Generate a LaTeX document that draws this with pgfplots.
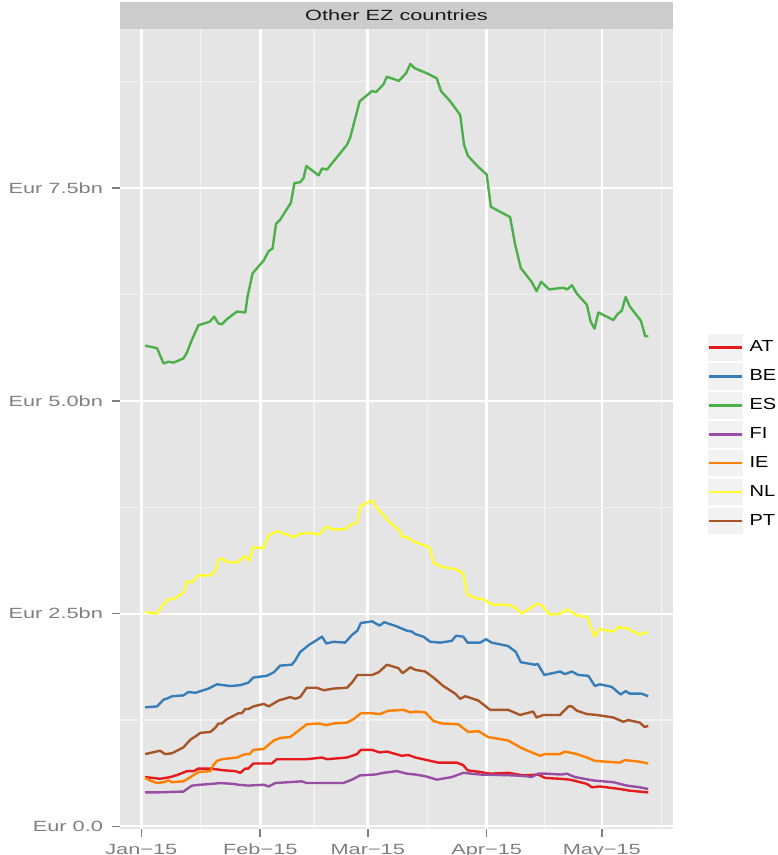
\documentclass[border=0pt]{standalone}
\usepackage{pgfplots}
\pgfplotsset{compat=1.18}
\usepackage{fontspec}
\setmainfont{Liberation Sans}
\newfontfamily\axisfont{Liberation Sans}[FakeStretch=1.47]
\newfontfamily\legfont{Liberation Sans}[FakeStretch=1.25]
\definecolor{cAT}{HTML}{E41A1C}
\definecolor{cBE}{HTML}{377EB8}
\definecolor{cES}{HTML}{4DAF4A}
\definecolor{cFI}{HTML}{984EA3}
\definecolor{cIE}{HTML}{FF7F00}
\definecolor{cNL}{HTML}{FFFF33}
\definecolor{cPT}{HTML}{A65628}
\definecolor{panel}{HTML}{E5E5E5}
\definecolor{minorg}{HTML}{F2F2F2}
\definecolor{stripbg}{HTML}{CCCCCC}
\definecolor{axtext}{HTML}{7F7F7F}
\definecolor{keybg}{HTML}{F2F2F2}
\begin{document}
\begin{tikzpicture}
\useasboundingbox (0,0) rectangle (388.5pt,427.5pt);
\clip (0,0) rectangle (388.5pt,427.5pt);
\begin{axis}[
  name=ax, at={(60pt,13pt)}, anchor=south west,
  scale only axis, width=276.5pt, height=400pt,
  xmin=-5.55, xmax=138.55, ymin=-0.03, ymax=9.37,
  axis background/.style={fill=panel},
  axis line style={draw=none},
  xtick={0,31,59,90,120},
  xticklabels={Jan−15,Feb−15,Mar−15,Apr−15,May−15},
  ytick={0,2.5,5,7.5},
  yticklabels={Eur 0.0,Eur 2.5bn,Eur 5.0bn,Eur 7.5bn},
  minor xtick={15.5,45,74.5,105,135.5},
  minor ytick={1.25,3.75,6.25,8.75},
  grid=both,
  major x grid style={white,line width=1.3pt},
  major y grid style={white,line width=1.0pt},
  minor x grid style={minorg,line width=0.65pt},
  minor y grid style={minorg,line width=0.6pt},
  tick align=outside, tick pos=left,
  major tick length=4pt, minor tick length=0pt,
  every tick/.style={axtext, line width=0.8pt},
  tick label style={font=\axisfont\fontsize{7.4}{8}\selectfont, text=axtext},
  yticklabel style={xshift=-1pt},
  legend style={at={(1.0615,0.6198)}, anchor=north west, draw=none, fill=none,
    inner sep=0pt, outer sep=0pt, row sep=0pt,
    font=\legfont\fontsize{8}{8}\selectfont,
    nodes={inner sep=0pt},
    /tikz/every odd column/.append style={column sep=2.7pt}},
  legend cell align=left,
  legend image code/.code={%
    \path[fill=keybg,draw=white,line width=0.6pt] (0pt,-6.925pt) rectangle (18pt,6.925pt);
    \draw[#1] (0.8pt,0pt) -- (17.2pt,0pt);},
  every axis plot/.append style={line width=1.2pt, line join=round},
]
\addplot[cAT] coordinates {
(1.0,0.58) (4.9,0.56) (7.6,0.58) (9.7,0.61) (11.9,0.65) (13.6,0.65) (14.9,0.68) (18.0,0.68)
(21.4,0.66) (24.5,0.65) (25.8,0.63) (27.1,0.68) (27.9,0.68) (29.2,0.74) (34.0,0.74) (35.3,0.79)
(39.7,0.79) (43.1,0.79) (47.1,0.81) (48.4,0.79) (53.6,0.81) (56.2,0.85) (57.2,0.90) (60.1,0.90)
(62.1,0.87) (64.0,0.88) (67.9,0.83) (69.6,0.84) (71.4,0.81) (74.4,0.78) (77.4,0.75) (82.2,0.75)
(83.9,0.72) (85.0,0.66) (88.3,0.64) (90.9,0.62) (95.6,0.63) (99.5,0.60) (103.4,0.61) (105.2,0.57)
(109.1,0.56) (111.7,0.55) (116.1,0.50) (117.4,0.46) (119.5,0.47) (124.7,0.44) (127.3,0.42) (132.1,0.40)
};
\addlegendentry{AT}
\addplot[cBE] coordinates {
(1.0,1.40) (4.1,1.41) (5.8,1.49) (7.1,1.51) (8.0,1.53) (11.0,1.54) (12.3,1.58) (14.1,1.57)
(17.5,1.62) (19.7,1.67) (23.2,1.65) (25.8,1.66) (27.9,1.69) (29.2,1.75) (32.7,1.77) (34.5,1.81)
(36.2,1.89) (39.2,1.90) (40.1,1.95) (41.4,2.05) (43.6,2.13) (47.1,2.23) (48.2,2.15) (50.1,2.17)
(53.1,2.16) (54.9,2.25) (56.3,2.30) (57.2,2.39) (60.1,2.41) (62.1,2.36) (63.3,2.40) (66.6,2.35)
(69.2,2.30) (70.5,2.29) (71.4,2.26) (73.5,2.23) (75.3,2.17) (77.9,2.16) (80.9,2.18) (82.0,2.24)
(83.9,2.23) (85.0,2.16) (88.3,2.16) (89.8,2.20) (91.3,2.16) (95.6,2.12) (97.6,2.05) (98.9,1.93)
(102.6,1.90) (103.3,1.91) (105.0,1.78) (109.1,1.82) (110.4,1.79) (112.2,1.82) (113.9,1.78) (116.5,1.77)
(118.2,1.65) (119.5,1.67) (122.6,1.64) (124.9,1.55) (126.2,1.59) (127.3,1.56) (130.4,1.56) (132.1,1.53)
};
\addlegendentry{BE}
\addplot[cES] coordinates {
(1.0,5.65) (4.1,5.62) (5.8,5.44) (7.1,5.46) (8.4,5.45) (11.0,5.50) (11.9,5.57) (13.2,5.72)
(14.9,5.89) (17.8,5.93) (19.0,5.99) (20.1,5.91) (21.0,5.90) (22.3,5.96) (24.9,6.05) (27.1,6.04)
(27.7,6.23) (29.0,6.50) (31.9,6.65) (33.2,6.76) (34.2,6.79) (35.1,7.08) (36.2,7.13) (39.0,7.33)
(39.9,7.56) (41.4,7.57) (42.3,7.62) (43.0,7.76) (46.2,7.65) (47.1,7.73) (48.4,7.72) (53.6,8.01)
(54.4,8.09) (56.9,8.52) (60.1,8.64) (61.2,8.63) (63.1,8.72) (64.0,8.81) (67.1,8.76) (69.0,8.85)
(70.1,8.96) (71.2,8.91) (74.4,8.85) (77.0,8.79) (78.1,8.64) (80.5,8.52) (83.1,8.36) (84.1,8.01)
(85.1,7.88) (87.8,7.75) (90.0,7.66) (91.1,7.28) (96.1,7.16) (97.4,6.84) (98.9,6.56) (101.7,6.40)
(103.0,6.29) (104.2,6.40) (106.3,6.31) (110.0,6.33) (111.0,6.31) (112.2,6.36) (113.5,6.26) (116.1,6.13)
(117.1,5.93) (118.1,5.85) (119.1,6.04) (123.0,5.95) (124.1,6.02) (125.2,6.06) (126.2,6.22) (127.3,6.11)
(130.2,5.94) (131.3,5.76) (132.1,5.76)
};
\addlegendentry{ES}
\addplot[cFI] coordinates {
(1.0,0.40) (4.1,0.40) (11.0,0.41) (11.9,0.44) (13.2,0.48) (15.4,0.49) (18.4,0.50) (20.6,0.51)
(24.0,0.50) (25.3,0.49) (27.9,0.48) (31.9,0.49) (33.2,0.47) (34.9,0.51) (41.8,0.53) (43.1,0.51)
(52.6,0.51) (54.9,0.55) (57.0,0.60) (60.9,0.61) (63.1,0.63) (66.6,0.65) (69.2,0.62) (71.4,0.61)
(74.0,0.59) (77.0,0.55) (80.9,0.58) (83.9,0.63) (88.3,0.61) (97.0,0.60) (100.4,0.59) (101.7,0.58)
(103.4,0.62) (105.6,0.62) (109.5,0.61) (110.9,0.62) (113.0,0.58) (117.8,0.54) (123.0,0.52) (126.5,0.48)
(129.9,0.46) (132.1,0.44)
};
\addlegendentry{FI}
\addplot[cIE] coordinates {
(1.0,0.57) (2.3,0.54) (4.1,0.51) (5.8,0.52) (7.1,0.54) (8.0,0.52) (11.0,0.53) (12.8,0.58)
(14.9,0.64) (18.0,0.65) (18.8,0.72) (19.7,0.77) (21.0,0.79) (24.9,0.81) (27.1,0.85) (28.2,0.85)
(29.2,0.90) (31.9,0.91) (34.5,1.01) (36.2,1.04) (38.8,1.05) (40.5,1.11) (43.1,1.20) (46.2,1.21)
(48.2,1.19) (50.1,1.21) (53.6,1.22) (55.3,1.26) (57.2,1.33) (60.1,1.33) (62.1,1.32) (64.4,1.36)
(68.3,1.37) (70.1,1.34) (71.4,1.35) (74.0,1.34) (76.1,1.24) (78.3,1.21) (82.6,1.20) (85.2,1.11)
(87.8,1.12) (90.4,1.05) (95.6,1.01) (99.1,0.92) (103.9,0.83) (105.2,0.85) (109.1,0.85) (110.4,0.88)
(113.5,0.85) (116.1,0.81) (118.2,0.77) (124.7,0.75) (126.0,0.78) (129.9,0.76) (132.1,0.74)
};
\addlegendentry{IE}
\addplot[cNL] coordinates {
(1.0,2.52) (4.1,2.50) (5.4,2.59) (7.1,2.67) (8.4,2.67) (11.0,2.75) (11.9,2.88) (13.2,2.87)
(14.9,2.95) (18.0,2.95) (19.3,3.00) (20.1,3.13) (21.0,3.15) (22.3,3.11) (24.9,3.10) (27.1,3.18)
(28.1,3.12) (29.1,3.28) (31.9,3.27) (33.2,3.42) (35.3,3.47) (39.8,3.40) (41.4,3.44) (43.6,3.45)
(46.2,3.43) (48.2,3.52) (50.1,3.49) (53.1,3.49) (54.4,3.54) (56.2,3.57) (57.2,3.77) (60.2,3.83)
(61.4,3.74) (62.7,3.68) (64.4,3.59) (67.2,3.48) (68.1,3.40) (69.2,3.40) (70.9,3.35) (75.1,3.28)
(76.1,3.10) (78.3,3.05) (82.2,3.02) (83.9,2.97) (85.0,2.72) (87.4,2.68) (89.1,2.67) (91.1,2.61)
(96.1,2.60) (97.8,2.56) (99.1,2.50) (103.2,2.62) (104.8,2.58) (106.3,2.49) (109.1,2.50) (111.0,2.55)
(113.5,2.48) (116.2,2.46) (118.1,2.23) (119.3,2.32) (123.0,2.29) (124.3,2.34) (126.5,2.33) (129.9,2.25)
(131.1,2.28) (132.1,2.27)
};
\addlegendentry{NL}
\addplot[cPT] coordinates {
(1.0,0.85) (4.9,0.89) (6.2,0.85) (8.0,0.86) (11.0,0.93) (12.8,1.02) (14.5,1.07) (15.4,1.10)
(18.0,1.11) (19.3,1.16) (20.1,1.21) (21.0,1.21) (22.3,1.26) (25.3,1.33) (26.2,1.33) (27.1,1.38)
(27.9,1.38) (29.2,1.41) (31.9,1.44) (33.2,1.41) (35.8,1.48) (38.8,1.52) (40.1,1.50) (41.4,1.52)
(43.1,1.63) (45.7,1.63) (47.5,1.60) (50.1,1.62) (53.6,1.63) (54.9,1.69) (56.3,1.78) (60.1,1.78)
(61.8,1.81) (64.0,1.90) (67.0,1.86) (68.1,1.80) (70.1,1.87) (71.4,1.84) (74.0,1.82) (76.1,1.75)
(78.7,1.65) (81.8,1.56) (83.1,1.50) (84.4,1.53) (87.8,1.48) (90.9,1.37) (95.6,1.37) (98.7,1.31)
(100.4,1.33) (102.1,1.35) (103.0,1.28) (104.8,1.31) (109.1,1.31) (111.3,1.41) (112.2,1.41) (113.5,1.36)
(116.1,1.32) (118.7,1.31) (123.0,1.28) (125.6,1.23) (126.9,1.25) (129.9,1.22) (131.1,1.17) (132.1,1.18)
};
\addlegendentry{PT}
\end{axis}
\fill[stripbg] (ax.north west) rectangle ([yshift=13.5pt]ax.north east);
\node[font=\axisfont\fontsize{7.4}{8}\selectfont, text=black!90, inner sep=0pt] at ([yshift=6.75pt]ax.north) {Other EZ countries};
\end{tikzpicture}
\end{document}
